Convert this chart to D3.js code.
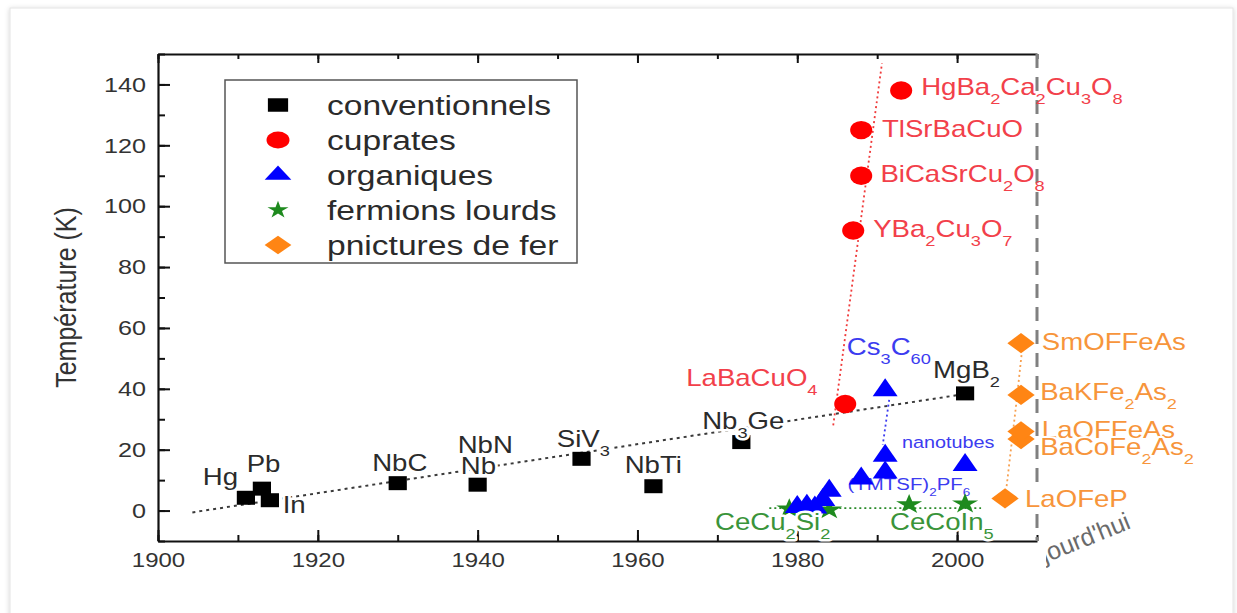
<!DOCTYPE html>
<html>
<head>
<meta charset="utf-8">
<script src="https://cdn.jsdelivr.net/npm/d3@7"></script>
<style>
  html, body { margin: 0; padding: 0; background: #ffffff; }
  svg { display: block; font-family: "Liberation Sans", Arial, Helvetica, sans-serif; }
</style>
</head>
<body>
<svg id="chart" width="1237" height="613"></svg>
<script>
// Critical temperature (K) of superconductor families versus year of discovery

const conventionnels = [
  { name: "Hg", year: 1911, tc: 4.2 },
  { name: "Pb", year: 1913, tc: 7.2 },
  { name: "In", year: 1914, tc: 3.4 },
  { name: "NbC", year: 1930, tc: 9.0 },
  { name: "Nb", year: 1940, tc: 8.5 },
  { name: "SiV3", year: 1953, tc: 17 },
  { name: "NbTi", year: 1962, tc: 8 },
  { name: "Nb3Ge", year: 1973, tc: 22.5 },
  { name: "MgB2", year: 2001, tc: 38.5 }
];

const cuprates = [
  { name: "LaBaCuO4", year: 1986, tc: 35 },
  { name: "YBa2Cu3O7", year: 1987, tc: 92 },
  { name: "BiCaSrCu2O8", year: 1988, tc: 110 },
  { name: "TlSrBaCuO", year: 1988, tc: 125 },
  { name: "HgBa2Ca2Cu3O8", year: 1993, tc: 138 }
];

const organiques = [
  { year: 1980, tc: 1.2 },
  { year: 1981.2, tc: 1.6 },
  { year: 1982.2, tc: 1.0 },
  { year: 1983.2, tc: 3.5 },
  { year: 1984, tc: 6.5 },
  { year: 1988, tc: 10.5 },
  { year: 1991, tc: 12.5 },
  { year: 1991, tc: 18 },
  { year: 1991, tc: 39.5 },
  { year: 2001, tc: 15 }
];

const fermionsLourds = [
  { year: 1979, tc: 0.6 },
  { year: 1984, tc: 0.3 },
  { year: 1994, tc: 2 },
  { year: 2001, tc: 2.2 }
];

const pnictures = [
  { name: "LaOFeP", year: 2006, tc: 4 },
  { name: "BaCoFe2As2", year: 2008, tc: 23.5 },
  { name: "LaOFFeAs", year: 2008, tc: 26 },
  { name: "BaKFe2As2", year: 2008, tc: 38 },
  { name: "SmOFFeAs", year: 2008, tc: 55 }
];

// Dotted guide lines drawn through each family
const trendConventionnels = [[1904.3, -0.6], [2001, 38.3]];
const trendCuprates = [[1984.5, 28], [1990.6, 147]];
const trendOrganiques = [[1991.5, 36.4], [1990.7, 21.6]];
const trendFermions = [[1976.5, 0.8], [2003, 0.8]];
const trendPnictures = [[2006.2, 8], [2007.4, 35], [2008.1, 52]];

// Text annotations (anchor = start of text baseline, in data units)
const annotationsConventionnels = [
  { text: "Hg", year: 1905.6, tc: 8.4 },
  { text: "Pb", year: 1911.1, tc: 12.7 },
  { text: "In", year: 1915.6, tc: -0.8 },
  { text: "NbC", year: 1926.8, tc: 13.0 },
  { text: "NbN", year: 1937.5, tc: 18.9 },
  { text: "Nb", year: 1937.9, tc: 12.0 },
  { text: "SiV_3", year: 1949.9, tc: 20.9 },
  { text: "NbTi", year: 1958.4, tc: 12.4 },
  { text: "Nb_3Ge", year: 1968.1, tc: 26.8 },
  { text: "MgB_2", year: 1997.0, tc: 43.5 }
];
const annotationsCuprates = [
  { text: "LaBaCuO_4", year: 1966.1, tc: 40.9 },
  { text: "HgBa_2Ca_2Cu_3O_8", year: 1995.5, tc: 136.5 },
  { text: "TlSrBaCuO", year: 1990.6, tc: 122.7 },
  { text: "BiCaSrCu_2O_8", year: 1990.4, tc: 107.9 },
  { text: "YBa_2Cu_3O_7", year: 1989.5, tc: 89.8 }
];
const annotationsOrganiques = [
  { text: "Cs_3C_{60}", year: 1986.2, tc: 51.1, size: 23 },
  { text: "nanotubes", year: 1993.1, tc: 20.6, size: 16.5 },
  { text: "(TMTSF)_2PF_6", year: 1986.3, tc: 6.8, size: 17 }
];
const annotationsFermions = [
  { text: "CeCu_2Si_2", year: 1969.7, tc: -6.4 },
  { text: "CeCoIn_5", year: 1991.6, tc: -6.4 }
];
const annotationsPnictures = [
  { text: "SmOFFeAs", year: 2010.6, tc: 52.7 },
  { text: "BaKFe_2As_2", year: 2010.4, tc: 36.2 },
  { text: "LaOFFeAs", year: 2010.6, tc: 23.8 },
  { text: "BaCoFe_2As_2", year: 2010.4, tc: 18.3 },
  { text: "LaOFeP", year: 2008.5, tc: 1.2, box: true }
];

const legendEntries = ["conventionnels", "cuprates", "organiques", "fermions lourds", "pnictures de fer"];

const xMajorTicks = [1900, 1920, 1940, 1960, 1980, 2000];
const xMinorTicks = [1900, 1910, 1920, 1930, 1940, 1950, 1960, 1970, 1980, 1990, 2000, 2010];
const yMajorTicks = [0, 20, 40, 60, 80, 100, 120, 140];
const yMinorTicks = [-10, 0, 10, 20, 30, 40, 50, 60, 70, 80, 90, 100, 110, 120, 130, 140, 150];
const todayYear = 2010;

// ---------------------------------------------------------------------------
const SX = 1.2; // horizontal stretch applied to glyphs and markers
const svg = d3.select("#chart");

// drop-shadowed card
const defs = svg.append("defs");
const shadow = defs.append("filter").attr("id", "cardShadow")
  .attr("x", "-5%").attr("y", "-5%").attr("width", "110%").attr("height", "110%");
shadow.append("feDropShadow").attr("dx", 0).attr("dy", 1).attr("stdDeviation", 2.5)
  .attr("flood-color", "#000").attr("flood-opacity", 0.18);
svg.append("rect").attr("x", 10).attr("y", 8).attr("width", 1223).attr("height", 640)
  .attr("fill", "#fff").attr("stroke", "#e4e4e4").attr("filter", "url(#cardShadow)");

const x = d3.scaleLinear().domain([1900, 2010]).range([158, 1037]);
const y = d3.scaleLinear().domain([-10, 150]).range([541, 54]);

const axisColor = "#111";
const tickTextColor = "#333";

// Axes
function styleAxis(g) {
  g.selectAll("path.domain").attr("stroke", axisColor).attr("stroke-width", 2.2);
  g.selectAll(".tick line").attr("stroke", axisColor).attr("stroke-width", 2);
}

const gxMinor = svg.append("g").attr("transform", `translate(0,${y(-10)})`)
  .call(d3.axisBottom(x).tickValues(xMinorTicks).tickSize(-6).tickSizeOuter(0).tickFormat(""));
gxMinor.select("path.domain").remove();
styleAxis(gxMinor);
const gx = svg.append("g").attr("transform", `translate(0,${y(-10)})`)
  .call(d3.axisBottom(x).tickValues(xMajorTicks).tickSize(-11).tickSizeOuter(0).tickPadding(12).tickFormat(d3.format("d")));
styleAxis(gx);
gx.selectAll(".tick text").attr("fill", tickTextColor).style("font-size", "20px")
  .attr("transform", `scale(${SX},1)`);

const gtMinor = svg.append("g").attr("transform", `translate(0,${y(150)})`)
  .call(d3.axisTop(x).tickValues(xMinorTicks).tickSize(-5).tickSizeOuter(0).tickFormat(""));
gtMinor.select("path.domain").remove();
styleAxis(gtMinor);
const gt = svg.append("g").attr("transform", `translate(0,${y(150)})`)
  .call(d3.axisTop(x).tickValues(xMajorTicks).tickSize(-9).tickSizeOuter(0).tickFormat(""));
styleAxis(gt);

const gyMinor = svg.append("g").attr("transform", `translate(${x(1900)},0)`)
  .call(d3.axisLeft(y).tickValues(yMinorTicks).tickSize(-7).tickSizeOuter(0).tickFormat(""));
gyMinor.select("path.domain").remove();
styleAxis(gyMinor);
const gy = svg.append("g").attr("transform", `translate(${x(1900)},0)`)
  .call(d3.axisLeft(y).tickValues(yMajorTicks).tickSize(-12).tickSizeOuter(0).tickPadding(12).tickFormat(d3.format("d")));
styleAxis(gy);
gy.selectAll(".tick text").attr("fill", tickTextColor).style("font-size", "21px")
  .attr("x", -12 / SX).attr("transform", `scale(${SX},1)`);

// Axis title
svg.append("text")
  .attr("transform", `translate(76,${y(70)}) scale(${SX},1) rotate(-90)`)
  .attr("text-anchor", "middle").attr("fill", "#333").style("font-size", "25px")
  .text("Température (K)");

// "today" marker
svg.append("line")
  .attr("x1", x(todayYear)).attr("x2", x(todayYear))
  .attr("y1", y(150)).attr("y2", y(-10))
  .attr("stroke", "#808080").attr("stroke-width", 3).attr("stroke-dasharray", "14 9");

const clip = defs.append("clipPath").attr("id", "todayClip");
clip.append("rect").attr("x", 1046).attr("y", 480).attr("width", 190).attr("height", 130);
svg.append("g").attr("clip-path", "url(#todayClip)")
  .append("text")
  .attr("transform", `translate(1132,528) rotate(-22)`)
  .attr("text-anchor", "end").attr("fill", "#6a6a6a").style("font-size", "25px")
  .text("aujourd'hui");

// Guide lines
const line = d3.line().x(d => x(d[0])).y(d => y(d[1]));
function guide(data, color, dash, width) {
  svg.append("path").datum(data).attr("d", line).attr("fill", "none")
    .attr("stroke", color).attr("stroke-width", width).attr("stroke-dasharray", dash);
}
guide(trendConventionnels, "#3a3a3a", "3 4", 2);
guide(trendCuprates, "#f03a3a", "2 3", 1.8);
guide(trendOrganiques, "#3a3af0", "2 3", 1.8);
guide(trendFermions, "#2a8a2a", "2 3", 1.8);
guide(trendPnictures, "#f7a050", "2 3", 1.8);

// Rich labels with subscripts: "_x" or "_{xy}"
function segments(s) {
  const out = [];
  const re = /_(\{[^}]*\}|.)/g;
  let last = 0, m;
  while ((m = re.exec(s))) {
    if (m.index > last) out.push({ t: s.slice(last, m.index), sub: false });
    out.push({ t: m[1].replace(/[{}]/g, ""), sub: true });
    last = re.lastIndex;
  }
  if (last < s.length) out.push({ t: s.slice(last), sub: false });
  return out;
}
function drawLabels(list, color, halo) {
  list.forEach(d => {
    const size = d.size || 23;
    const subSize = size * 0.66;
    const shift = size * 0.38;
    const g = svg.append("g").attr("transform", `translate(${x(d.year)},${y(d.tc)}) scale(${SX},1)`);
    const bg = d.box ? g.append("rect").attr("fill", "#fff") : null;
    const t = g.append("text").attr("fill", color).style("font-size", size + "px");
    if (halo) {
      t.attr("stroke", "#fff").attr("stroke-width", halo).attr("stroke-linejoin", "round")
        .attr("paint-order", "stroke");
    }
    let down = false;
    segments(d.text).forEach(s => {
      const ts = t.append("tspan").text(s.t);
      if (s.sub) {
        ts.style("font-size", subSize + "px");
        if (!down) { ts.attr("dy", shift); down = true; }
      } else if (down) {
        ts.attr("dy", -shift); down = false;
      }
    });
    if (bg) {
      const b = t.node().getBBox();
      bg.attr("x", b.x - 1).attr("y", b.y + 2).attr("width", b.width + 2).attr("height", b.height - 3);
    }
  });
}

// Markers
const markers = {
  conventionnels: { type: d3.symbolSquare, size: 196, sx: 1.3, rot: 0, fill: "#000000" },
  cuprates: { type: d3.symbolCircle, size: 266, sx: 1.2, rot: 0, fill: "#ff0000" },
  organiques: { type: d3.symbolTriangle, size: 187, sx: 1.2, rot: 0, fill: "#0000ff" },
  fermions: { type: d3.symbolStar, size: 125, sx: 1.3, rot: 0, fill: "#1e8a1e" },
  pnictures: { type: d3.symbolSquare, size: 205, sx: 1.35, rot: 45, fill: "#ff8514" }
};
function drawPoints(data, m) {
  svg.append("g").selectAll("path").data(data).join("path")
    .attr("d", d3.symbol(m.type, m.size))
    .attr("transform", d => `translate(${x(d.year)},${y(d.tc)}) scale(${m.sx},1) rotate(${m.rot})`)
    .attr("fill", m.fill);
}

// organic labels sit beneath their markers
drawLabels(annotationsOrganiques.slice(1), "#3c3cf0", 0);

drawPoints(conventionnels, markers.conventionnels);
drawPoints(fermionsLourds, markers.fermions);
drawPoints(organiques, markers.organiques);
drawPoints(cuprates, markers.cuprates);

drawLabels(annotationsConventionnels, "#2b2b2b", 5);
drawLabels(annotationsCuprates, "#f2404a", 0);
drawLabels(annotationsOrganiques.slice(0, 1), "#3c3cf0", 0);
drawLabels(annotationsFermions, "#3a943a", 5);
drawLabels(annotationsPnictures, "#f7953b", 4);

drawPoints(pnictures, markers.pnictures);

// Legend
const legend = svg.append("g");
legend.append("rect").attr("x", 225).attr("y", 80).attr("width", 352).attr("height", 183)
  .attr("fill", "#fff").attr("stroke", "#555").attr("stroke-width", 1.5);
const legendMarkers = [
  { type: d3.symbolSquare, size: 182, sx: 1.5, rot: 0, fill: "#000000" },
  { type: d3.symbolCircle, size: 227, sx: 1.35, rot: 0, fill: "#ff0000" },
  { type: d3.symbolTriangle, size: 120, sx: 1.6, rot: 0, fill: "#0000ff" },
  { type: d3.symbolStar, size: 95, sx: 1.2, rot: 0, fill: "#1e8a1e" },
  { type: d3.symbolSquare, size: 170, sx: 1.45, rot: 45, fill: "#ff8514" }
];
const legendRow = d3.scalePoint().domain(legendEntries).range([105, 245]);
legendEntries.forEach((name, i) => {
  const m = legendMarkers[i];
  legend.append("path").attr("d", d3.symbol(m.type, m.size))
    .attr("transform", `translate(278,${legendRow(name)}) scale(${m.sx},1) rotate(${m.rot})`)
    .attr("fill", m.fill);
  legend.append("text")
    .attr("transform", `translate(327,${legendRow(name)}) scale(${SX},1)`)
    .attr("dy", "0.36em").attr("fill", "#2b2b2b").style("font-size", "28px")
    .text(name);
});
</script>
</body>
</html>
